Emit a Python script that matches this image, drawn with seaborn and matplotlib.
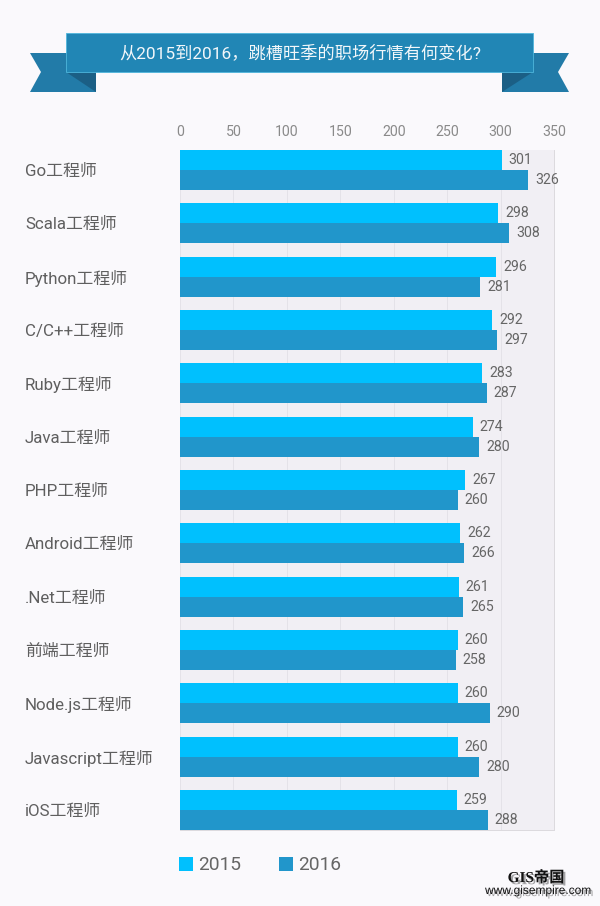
import numpy as np
import pandas as pd
import matplotlib
matplotlib.use('Agg')
import matplotlib.pyplot as plt
import matplotlib.patheffects as pe
from matplotlib.patches import Polygon, Rectangle
import seaborn as sns

# Values
jobs = ['Go工程师', 'Scala工程师', 'Python工程师', 'C/C++工程师', 'Ruby工程师', 'Java工程师', 'PHP工程师',
        'Android工程师', '.Net工程师', '前端工程师', 'Node.js工程师', 'Javascript工程师', 'iOS工程师']
salary_2015 = [301, 298, 296, 292, 283, 274, 267, 262, 261, 260, 260, 260, 259]
salary_2016 = [326, 308, 281, 297, 287, 280, 260, 266, 265, 258, 290, 280, 288]
years = ['2015', '2016']
x_ticks = [0, 50, 100, 150, 200, 250, 300, 350]
title = '从2015到2016，跳槽旺季的职场行情有何变化?'

BG = '#faf9fc'
PANEL = '#f1eff4'
C_2015 = '#00c0fe'
C_2016 = '#2196cb'
FONTS = ['Roboto', 'Noto Sans CJK SC', 'DejaVu Sans']

sns.set_style('white')
plt.rcParams['font.family'] = FONTS

W, H = 600, 906
fig = plt.figure(figsize=(W / 100, H / 100), dpi=100, facecolor=BG)

# Pixel layer for the ribbon and legend
bg = fig.add_axes([0, 0, 1, 1], zorder=0)
bg.set_xlim(0, W)
bg.set_ylim(H, 0)
bg.axis('off')

# Ribbon tails, folds, then the main band
bg.add_patch(Polygon([(30, 53), (96, 53), (96, 92), (30, 92), (41, 72)], fc='#227ba8', lw=0))
bg.add_patch(Polygon([(569, 53), (502, 53), (502, 92), (569, 92), (558, 72)], fc='#227ba8', lw=0))
bg.add_patch(Polygon([(66, 72), (96, 72), (96, 92)], fc='#1b5f85', lw=0))
bg.add_patch(Polygon([(533, 72), (502, 72), (502, 92)], fc='#1b5f85', lw=0))
bg.add_patch(Rectangle((66, 33), 467, 39, fc='#2186b5', ec='#4fb6dc', lw=0.6))
bg.text(300, 53, title, color='#f2f7fa', fontsize=12.4, ha='center', va='center')

# Main chart
left, top, width, height = 180, 150, 374, 680
ax = fig.add_axes([left / W, 1 - (top + height) / H, width / W, height / H], zorder=1)
ax.set_facecolor(PANEL)

df = pd.DataFrame({'job': jobs, '2015': salary_2015, '2016': salary_2016})
long_df = df.melt(id_vars='job', var_name='year', value_name='salary')
sns.barplot(data=long_df, y='job', x='salary', hue='year', hue_order=years,
            palette=[C_2015, C_2016], width=0.75, gap=0, saturation=1,
            linewidth=0, legend=False, ax=ax, zorder=3)

for bars in ax.containers:
    ax.bar_label(bars, padding=5, color='#666666', fontsize=10.2)

ax.set_xlim(0, 350)
ax.set_ylim(len(jobs) - 1 + 0.375, -0.375)
ax.set_xticks(x_ticks)
ax.xaxis.tick_top()
ax.set_xlabel('')
ax.set_ylabel('')
ax.grid(axis='x', color='#e4e2e8', lw=0.7, zorder=0)
ax.tick_params(axis='x', length=0, pad=8, labelsize=10.2, labelcolor='#8a8a8a')
ax.tick_params(axis='y', length=0, pad=155 * 0.72, labelsize=12.2, labelcolor='#5f5f5f')
for lab in ax.get_yticklabels():
    lab.set_ha('left')
for name, spine in ax.spines.items():
    spine.set_visible(name in ('right', 'bottom'))
    spine.set_color('#dcdade')
    spine.set_linewidth(0.7)

# Legend
bg.add_patch(Rectangle((179, 857), 13.5, 14, fc=C_2015, lw=0))
bg.add_patch(Rectangle((279, 857), 13.5, 14, fc=C_2016, lw=0))
bg.text(198, 864.5, years[0], color='#666666', fontsize=13.8, va='center')
bg.text(298, 864.5, years[1], color='#666666', fontsize=13.8, va='center')

# Source mark, bottom right
shadow = [pe.withSimplePatchShadow(offset=(1.5, -1.5), shadow_rgbFace='k', alpha=0.35)]
bg.text(536, 878, 'GIS帝国', color='#111111', fontsize=11, weight='bold', ha='center', va='center',
        family=['Liberation Serif', 'Noto Sans CJK SC'], path_effects=shadow)
bg.text(538, 891, 'www.gisempire.com', color='#111111', fontsize=8.6, ha='center', va='center',
        family=['Liberation Sans'], path_effects=shadow)

fig.savefig('out.png', dpi=100, facecolor=BG)
